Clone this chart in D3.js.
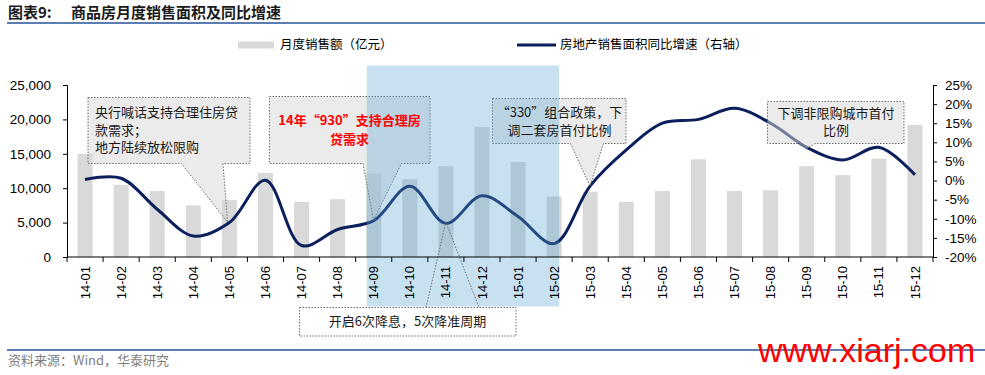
<!DOCTYPE html>
<html>
<head>
<meta charset="utf-8">
<script src="https://cdn.jsdelivr.net/npm/d3@7"></script>
<style>
  body { margin: 0; background: #fff; }
  svg { display: block; }
</style>
</head>
<body>
<div id="chart"></div>
<script>
;(function () {
  // data
  const months = ["14-01", "14-02", "14-03", "14-04", "14-05", "14-06", "14-07", "14-08",
    "14-09", "14-10", "14-11", "14-12", "15-01", "15-02", "15-03", "15-04",
    "15-05", "15-06", "15-07", "15-08", "15-09", "15-10", "15-11", "15-12"]
  const salesAmount = [15000, 10500, 9600, 7500, 8300, 12200, 8000, 8400,
    12100, 11300, 13200, 18900, 13800, 8800, 9500, 8000,
    9600, 14200, 9600, 9700, 13200, 11900, 14300, 19200]
  const areaGrowth = [0.3, 0.6, -7.5, -14.5, -11, 0.1, -17, -12.8,
    -10.5, -1.5, -11.2, -4, -9.4, -16.5, -1.4, 8,
    15, 16, 18.9, 15, 8.7, 5.4, 8.7, 1.5]
  const leftTicks = [0, 5000, 10000, 15000, 20000, 25000]
  const rightTicks = [-20, -15, -10, -5, 0, 5, 10, 15, 20, 25]

  const width = 985
  const height = 375
  const plot = { left: 67, right: 933, top: 85, bottom: 257 }
  const navy = "#0b1f5c"
  const font = "'Liberation Sans', Arial, sans-serif"
  const cjk = "'Noto Sans CJK SC', sans-serif"

  const svg = d3.select("#chart")
    .append("svg")
    .attr("width", width)
    .attr("height", height)

  // scales
  const x = d3.scaleBand()
    .domain(months)
    .range([plot.left, plot.right])
    .padding(0)
  const barW = 15
  const cx = d => x(d) + x.bandwidth() / 2

  const yL = d3.scaleLinear().domain([0, 25000]).range([plot.bottom, plot.top])
  const yR = d3.scaleLinear().domain([-20, 25]).range([plot.bottom, plot.top])

  // title
  svg.append("text")
    .attr("x", 8).attr("y", 18)
    .style("font-family", cjk).style("font-size", "15px").style("font-weight", "bold")
    .attr("fill", "#1a1a1a")
    .text("图表9:")
  svg.append("text")
    .attr("x", 71).attr("y", 18)
    .style("font-family", cjk).style("font-size", "15px").style("font-weight", "bold")
    .attr("fill", "#1a1a1a")
    .text("商品房月度销售面积及同比增速")
  svg.append("line")
    .attr("x1", 7).attr("x2", 985).attr("y1", 23).attr("y2", 23)
    .attr("stroke", "#5b7db1").attr("stroke-width", 2)

  // legend
  svg.append("rect")
    .attr("x", 238).attr("y", 41.5).attr("width", 36).attr("height", 7)
    .attr("fill", "#d9d9d9")
  svg.append("text")
    .attr("x", 280).attr("y", 45).attr("dy", "0.35em")
    .style("font-family", cjk).style("font-size", "12.5px")
    .text("月度销售额（亿元）")
  svg.append("line")
    .attr("x1", 517).attr("x2", 556).attr("y1", 45).attr("y2", 45)
    .attr("stroke", navy).attr("stroke-width", 3)
  svg.append("text")
    .attr("x", 560).attr("y", 45).attr("dy", "0.35em")
    .style("font-family", cjk).style("font-size", "12.5px")
    .text("房地产销售面积同比增速（右轴）")

  // bars
  svg.selectAll(".bar")
    .data(months)
    .join("rect")
    .attr("class", "bar")
    .attr("x", d => cx(d) - barW / 2)
    .attr("width", barW)
    .attr("y", (d, i) => yL(salesAmount[i]))
    .attr("height", (d, i) => plot.bottom - yL(salesAmount[i]))
    .attr("fill", "#d9d9d9")

  // line
  const line = d3.line()
    .x(d => cx(d))
    .y((d, i) => yR(areaGrowth[i]))
    .curve(d3.curveCatmullRom.alpha(0.5))
  svg.append("path")
    .datum(months)
    .attr("d", line)
    .attr("fill", "none")
    .attr("stroke", navy)
    .attr("stroke-width", 3)

  // callout boxes (semi-transparent, dotted border)
  function calloutPath(b) {
    const p = d3.path()
    p.moveTo(b.x0, b.y0)
    p.lineTo(b.x1, b.y0)
    p.lineTo(b.x1, b.y1)
    p.lineTo(b.pr, b.y1)
    p.lineTo(b.tx, b.ty)
    p.lineTo(b.pl, b.y1)
    p.lineTo(b.x0, b.y1)
    p.closePath()
    return p.toString()
  }
  const boxes = [
    { x0: 88, x1: 250, y0: 97.5, y1: 163.5, pl: 181.5, pr: 223, tx: 227.5, ty: 222 },
    { x0: 269.5, x1: 430, y0: 96.5, y1: 163.5, pl: 363, pr: 401.5, tx: 373.5, ty: 220 },
    { x0: 492.5, x1: 626, y0: 98.5, y1: 143.5, pl: 570.5, pr: 603.5, tx: 590, ty: 186 },
    { x0: 767.5, x1: 904, y0: 101.5, y1: 143.5, pl: 799, pr: 815, tx: 806, ty: 149 }
  ]
  svg.selectAll(".callout")
    .data(boxes)
    .join("path")
    .attr("class", "callout")
    .attr("d", calloutPath)
    .attr("fill", "rgba(215,215,215,0.5)")
    .attr("stroke", "#6e6e6e")
    .attr("stroke-width", 1)
    .attr("stroke-dasharray", "1.5,1.5")

  // shaded easing period (14-09 .. 15-02)
  const shadeX0 = cx("14-09") - 7
  const shadeX1 = cx("15-02") + 5
  svg.append("rect")
    .attr("x", shadeX0).attr("y", 65.5)
    .attr("width", shadeX1 - shadeX0).attr("height", 306.5 - 65.5)
    .attr("fill", "rgb(86,164,212)")
    .attr("fill-opacity", 0.33)

  // bottom callout
  svg.append("rect")
    .attr("x", 299.5).attr("y", 307.5).attr("width", 216.5).attr("height", 28.5)
    .attr("fill", "#fff")
    .attr("stroke", "#6e6e6e").attr("stroke-dasharray", "1.5,1.5")
  svg.append("path")
    .attr("d", `M426,307.5 L${cx("14-11")},222 L479,307.5`)
    .attr("fill", "none")
    .attr("stroke", "#6e6e6e").attr("stroke-dasharray", "1.5,1.5")

  // callout texts
  const notes = [
    { x: 95, anchor: "start", color: "#1a1a1a", bold: false, lines: [["央行喊话支持合理住房贷", 117], ["款需求；", 134.5], ["地方陆续放松限购", 152]] },
    { x: 349.5, anchor: "middle", color: "#ff0000", bold: true, lines: [["14年“930”支持合理房", 124.5], ["贷需求", 144]] },
    { x: 559.5, anchor: "middle", color: "#1a1a1a", bold: false, lines: [["“330”组合政策，下", 117], ["调二套房首付比例", 134.5]] },
    { x: 836, anchor: "middle", color: "#1a1a1a", bold: false, lines: [["下调非限购城市首付", 117.5], ["比例", 135]] },
    { x: 407.5, anchor: "middle", color: "#1a1a1a", bold: false, lines: [["开启6次降息，5次降准周期", 326]] }
  ]
  notes.forEach(n => {
    n.lines.forEach(([t, yy]) => {
      svg.append("text")
        .attr("x", n.x).attr("y", yy)
        .attr("text-anchor", n.anchor)
        .attr("fill", n.color)
        .style("font-family", cjk)
        .style("font-size", "13px")
        .style("font-weight", n.bold ? "bold" : "normal")
        .text(t)
    })
  })

  // left axis
  const axisL = svg.append("g")
    .attr("transform", `translate(${plot.left},0)`)
    .call(d3.axisLeft(yL).tickValues(leftTicks).tickSize(4).tickPadding(12).tickFormat(d3.format(",")))
  axisL.selectAll("text").style("font-family", font).style("font-size", "13.5px").attr("fill", "#000")
  axisL.selectAll("line, path").attr("stroke", "#000")

  // right axis
  const axisR = svg.append("g")
    .attr("transform", `translate(${plot.right},0)`)
    .call(d3.axisRight(yR).tickValues(rightTicks).tickSize(4).tickPadding(8).tickFormat(d => d + "%"))
  axisR.selectAll("text").style("font-family", font).style("font-size", "13.5px").attr("fill", "#000")
  axisR.selectAll("line, path").attr("stroke", "#000")

  // bottom axis
  svg.append("line")
    .attr("x1", plot.left).attr("x2", plot.right)
    .attr("y1", plot.bottom).attr("y2", plot.bottom)
    .attr("stroke", "#000")
  svg.selectAll(".xtick")
    .data(months.concat(["end"]))
    .join("line")
    .attr("class", "xtick")
    .attr("x1", d => d === "end" ? plot.right : x(d))
    .attr("x2", d => d === "end" ? plot.right : x(d))
    .attr("y1", plot.bottom).attr("y2", plot.bottom + 5)
    .attr("stroke", "#000")
  svg.selectAll(".xlabel")
    .data(months)
    .join("text")
    .attr("class", "xlabel")
    .attr("transform", d => `translate(${cx(d)},${plot.bottom + 9}) rotate(-90)`)
    .attr("text-anchor", "end")
    .attr("dy", "0.35em")
    .style("font-family", font)
    .style("font-size", "13px")
    .text(d => d)

  // footer
  svg.append("line")
    .attr("x1", 7).attr("x2", 985).attr("y1", 350).attr("y2", 350)
    .attr("stroke", "#5b7db1").attr("stroke-width", 2)
  svg.append("text")
    .attr("x", 8).attr("y", 365)
    .attr("fill", "#7f7f7f")
    .style("font-family", cjk).style("font-size", "13px")
    .text("资料来源：Wind，华泰研究")
  svg.append("text")
    .attr("x", 758).attr("y", 362)
    .attr("fill", "#ff0000")
    .style("font-family", font).style("font-size", "34px")
    .text("www.xiarj.com")
})()
</script>
</body>
</html>
